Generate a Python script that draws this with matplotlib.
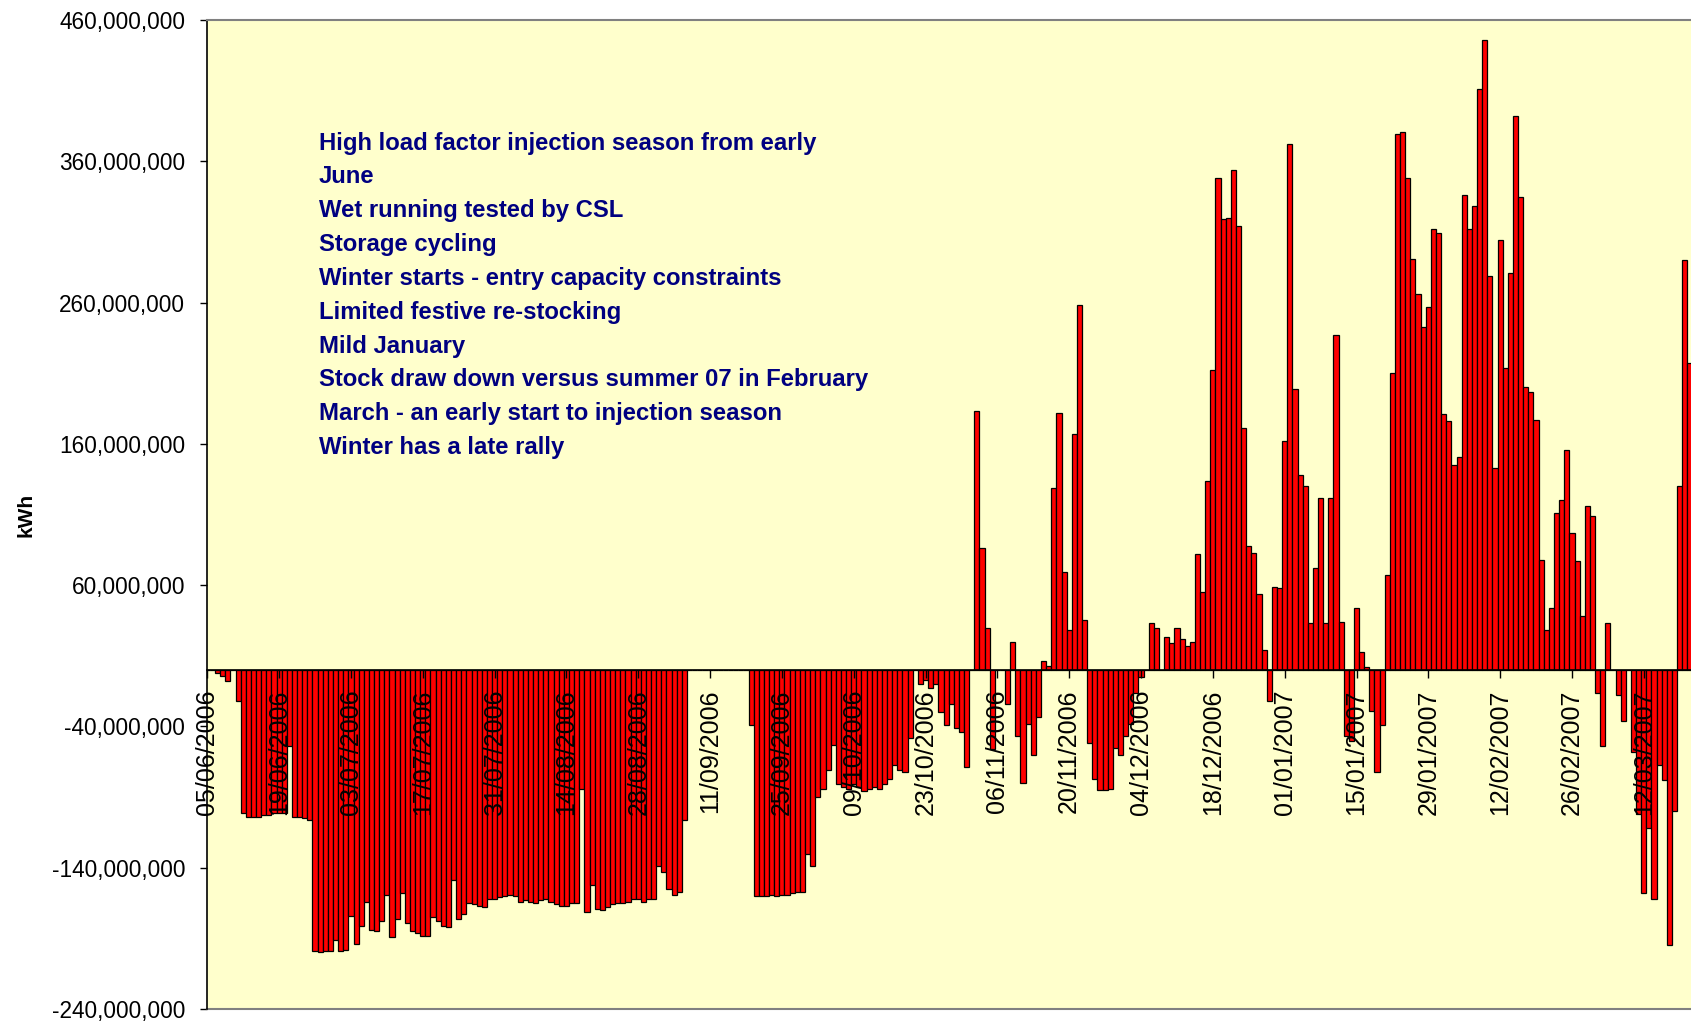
import matplotlib
matplotlib.use("Agg")
import matplotlib.pyplot as plt
import matplotlib.dates as mdates
from matplotlib.ticker import FuncFormatter
import numpy as np
import pandas as pd

plt.rcParams['font.family'] = ['Liberation Sans', 'DejaVu Sans']

# daily net storage flow in million kWh (positive = withdrawal, negative = injection)
jun_2006 = [0, 0, -2, -4, -8, 0, -22, -101, -104, -104, -104, -103, -103, -101,
            -101, -101, -54, -104, -104, -105, -106, -199, -200, -199, -199, -191]
jul_2006 = [-199, -198, -174, -194, -181, -164, -184, -185, -178, -159, -189,
            -176, -158, -179, -185, -186, -188, -188, -175, -178, -181, -182,
            -149, -176, -173, -165, -166, -167, -168, -162, -162]
aug_2006 = [-161, -160, -159, -160, -164, -163, -164, -165, -163, -162, -164,
            -166, -167, -167, -165, -165, -84, -171, -152, -169, -170, -168,
            -166, -165, -165, -164, -162, -162, -164, -162, -162]
sep_2006 = [-139, -143, -155, -159, -157, -106, 0, 0, 0, 0, 0, 0, 0, 0, 0, 0,
            0, 0, -39, -160, -160, -160, -159, -160, -159, -159, -158, -157,
            -157, -130]
oct_2006 = [-139, -90, -84, -71, -53, -81, -83, -84, -81, -83, -86, -84, -83,
            -84, -81, -77, -67, -71, -72, -48, 0, -10, -7, -13, -10, -30, -39,
            -24, -41, -44, -69]
nov_2006 = [0, 183, 86, 30, -56, 0, 0, -24, 20, -47, -80, -38, -60, -33, 6, 3,
            129, 182, 69, 28, 167, 258, 35, -52, -77, -85, -85, -84, -55, -60]
dec_2006 = [-47, -38, -16, -5, 0, 33, 30, 0, 23, 19, 30, 22, 17, 20, 82, 55,
            134, 212, 348, 319, 320, 354, 314, 171, 88, 83, 54, 14, -22, 59, 58]
jan_2007 = [162, 372, 199, 138, 130, 33, 72, 122, 33, 122, 237, 34, -47, -50,
            44, 13, 2, -29, -72, -39, 67, 210, 379, 381, 348, 291, 266, 243,
            257, 312, 309]
feb_2007 = [181, 176, 145, 151, 336, 312, 328, 411, 446, 279, 143, 304, 214,
            281, 392, 335, 200, 197, 177, 78, 28, 44, 111, 120, 156, 97, 77, 38]
mar_2007 = [116, 109, -16, -54, 33, 0, -18, -36, 0, -58, -102, -158, -112,
            -162, -67, -78, -195, -100, 130, 290, 217]

notes = [
    "High load factor injection season from early",
    "June",
    "Wet running tested by CSL",
    "Storage cycling",
    "Winter starts - entry capacity constraints",
    "Limited festive re-stocking",
    "Mild January",
    "Stock draw down versus summer 07 in February",
    "March - an early start to injection season",
    "Winter has a late rally",
]

y_ticks = np.arange(-240e6, 461e6, 100e6)

flow = (jun_2006 + jul_2006 + aug_2006 + sep_2006 + oct_2006 + nov_2006
        + dec_2006 + jan_2007 + feb_2007 + mar_2007)
flow_kwh = [v * 1e6 for v in flow]
days = pd.date_range('2006-06-05', periods=len(flow), freq='D')

fig = plt.figure(figsize=(16.91, 10.22), dpi=100)
ax = fig.add_axes([207.3 / 1691, 13 / 1022, (1691 - 207.3) / 1691, 989 / 1022])
ax.set_facecolor('#FFFFCC')

ax.bar(days, flow_kwh, width=1.0, color='#FF0000', edgecolor='black',
       linewidth=0.9, zorder=1)

start = mdates.date2num(days[0])
ax.set_xlim(start, start + 289.2)
ax.set_ylim(y_ticks[0], y_ticks[-1])

# category axis sits on the zero line
ax.spines['bottom'].set_position(('data', 0))
ax.spines['bottom'].set_linewidth(1.2)
ax.spines['left'].set_linewidth(1.2)
ax.spines['top'].set_color('#808080')
ax.spines['top'].set_linewidth(1.5)
ax.spines['right'].set_visible(False)
ax.plot([0, 1], [0, 0], transform=ax.transAxes, color='#808080', lw=1.5,
        clip_on=False)

tick_days = days[::14]
ax.set_xticks(tick_days)
ax.set_xticklabels([d.strftime('%d/%m/%Y') for d in tick_days], rotation=90,
                   fontsize=18)
ax.tick_params(axis='x', direction='out', length=6, width=1, pad=8)

ax.set_yticks(y_ticks)
ax.yaxis.set_major_formatter(FuncFormatter(lambda v, p: f"{v:,.0f}"))
ax.tick_params(axis='y', direction='out', length=5, width=1, labelsize=16.3,
               pad=11)

for i, line in enumerate(notes):
    ax.text(0.0753, 0.8755 - i * 0.0342, line, transform=ax.transAxes,
            color='#000080', fontsize=17.2, fontweight='bold', ha='left',
            va='center', zorder=3)

fig.text(26 / 1691, 1 - 515 / 1022, 'kWh', rotation=90, fontsize=15,
         fontweight='bold', ha='center', va='center')

fig.savefig('out.png', dpi=100)
